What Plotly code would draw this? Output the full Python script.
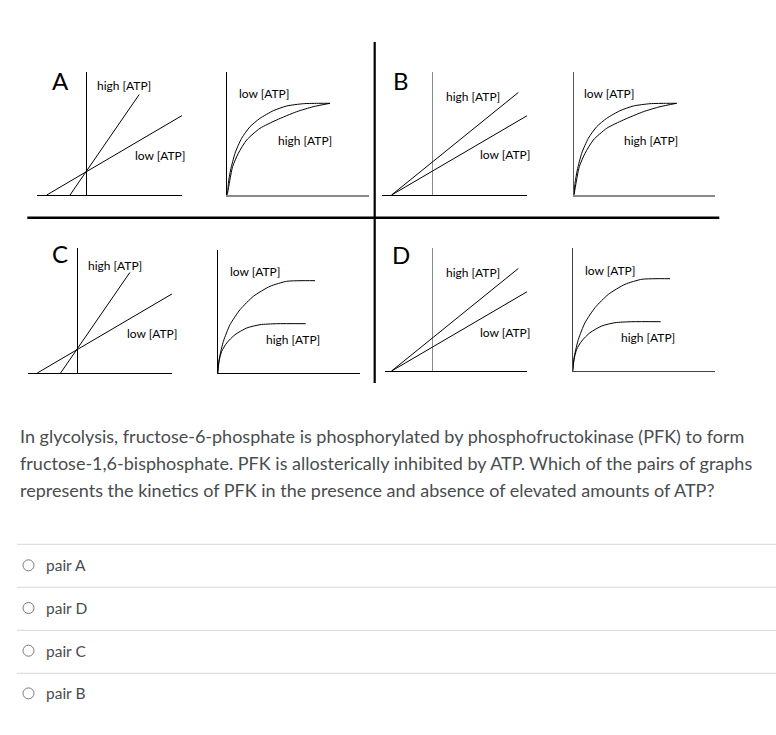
import plotly.graph_objects as go

W, H = 776, 735

# ---------------- data ----------------
# Lineweaver-Burk plots (1/[S] vs 1/v), pairs A and C
lb_ac_high_x = [-16.7, 52.5]
lb_ac_high_y = [0.0, 100.5]
lb_ac_low_x = [-40.0, 98.0]
lb_ac_low_y = [0.0, 81.0]
# Lineweaver-Burk plots, pairs B and D
lb_bd_high_x = [-40.7, 86.0]
lb_bd_high_y = [0.0, 102.5]
lb_bd_low_x = [-40.7, 97.7]
lb_bd_low_y = [0.0, 81.0]

# Michaelis-Menten plots ([S] vs v), pairs A and B (same Vmax)
mm_ab_low_s = [0.0, 1.0, 3.3, 7.7, 14.3, 22.7, 32.7, 46.0, 59.3, 76.0, 92.7, 102.7]
mm_ab_low_v = [1.0, 11.7, 25.0, 41.7, 56.7, 68.3, 76.7, 84.3, 89.0, 91.3, 91.7, 91.7]
mm_ab_high_s = [0.0, 2.0, 5.3, 11.0, 19.3, 32.7, 49.3, 69.3, 86.0, 102.7]
mm_ab_high_v = [0.0, 11.7, 28.3, 41.7, 55.0, 66.7, 75.0, 83.3, 88.3, 91.7]
# Michaelis-Menten plots, pairs C and D (lower Vmax with high ATP)
mm_cd_low_s = [0.0, 1.7, 5.7, 12.3, 22.3, 35.7, 52.3, 69.0, 82.3, 97.3]
mm_cd_low_v = [0.0, 15.0, 31.7, 48.3, 63.3, 76.7, 86.7, 91.7, 92.3, 92.3]
mm_cd_high_s = [0.0, 1.3, 4.0, 9.0, 17.3, 29.0, 42.3, 59.0, 88.0]
mm_cd_high_v = [0.0, 11.7, 21.7, 30.0, 38.3, 45.0, 48.3, 49.3, 49.3]

pair_letters = ["A", "B", "C", "D"]
curve_labels = ["high [ATP]", "low [ATP]"]
question_lines = [
    "In glycolysis, fructose-6-phosphate is phosphorylated by phosphofructokinase (PFK) to form",
    "fructose-1,6-bisphosphate. PFK is allosterically inhibited by ATP. Which of the pairs of graphs",
    "represents the kinetics of PFK in the presence and absence of elevated amounts of ATP?",
]
options = ["pair A", "pair D", "pair C", "pair B"]

# ---------------- layout of the panels (pixels) ----------------
GREY = "#8a8a8a"
panels = [
    dict(kind="lb", ox=86.7, oy=195, xl=-49.7, xr=95.3, top=123,
         vcol="black", hcol="black", vw=1, hw=1,
         high=(lb_ac_high_x, lb_ac_high_y), low=(lb_ac_low_x, lb_ac_low_y),
         lab_high=(37.3, 109), lab_low=(73.3, 39)),
    dict(kind="mm", ox=227.3, oy=195, xl=0, xr=142, top=123.3,
         vcol="black", hcol=GREY, vw=1, hw=2,
         high=(mm_ab_high_s, mm_ab_high_v), low=(mm_ab_low_s, mm_ab_low_v),
         lab_high=(77.7, 55), lab_low=(36.2, 102)),
    dict(kind="lb", ox=432.3, oy=195, xl=-50.3, xr=94.7, top=123,
         vcol=GREY, hcol="black", vw=1.5, hw=1,
         high=(lb_bd_high_x, lb_bd_high_y), low=(lb_bd_low_x, lb_bd_low_y),
         lab_high=(40.2, 98), lab_low=(72.7, 40)),
    dict(kind="mm", ox=574, oy=195, xl=0, xr=141, top=123.3,
         vcol="#555555", hcol=GREY, vw=1, hw=2,
         high=(mm_ab_high_s, mm_ab_high_v), low=(mm_ab_low_s, mm_ab_low_v),
         lab_high=(77, 55), lab_low=(34.5, 102)),
    dict(kind="lb", ox=77.3, oy=373, xl=-49.3, xr=94.7, top=125,
         vcol="black", hcol="black", vw=1, hw=1,
         high=(lb_ac_high_x, lb_ac_high_y), low=(lb_ac_low_x, lb_ac_low_y),
         lab_high=(37.7, 108), lab_low=(74.2, 40)),
    dict(kind="mm", ox=217.7, oy=373, xl=0, xr=142.3, top=123.3,
         vcol="black", hcol="black", vw=1, hw=1,
         high=(mm_cd_high_s, mm_cd_high_v), low=(mm_cd_low_s, mm_cd_low_v),
         lab_high=(74.8, 33), lab_low=(37.3, 101)),
    dict(kind="lb", ox=432.3, oy=371, xl=-47.3, xr=94.7, top=123,
         vcol=GREY, hcol="black", vw=1.5, hw=1,
         high=(lb_bd_high_x, lb_bd_high_y), low=(lb_bd_low_x, lb_bd_low_y),
         lab_high=(40.2, 99), lab_low=(72.7, 39)),
    dict(kind="mm", ox=572.7, oy=371, xl=0, xr=142.3, top=123,
         vcol="#444444", hcol="#444444", vw=1, hw=1,
         high=(mm_cd_high_s, mm_cd_high_v), low=(mm_cd_low_s, mm_cd_low_v),
         lab_high=(74.8, 34), lab_low=(37.3, 101)),
]

fig = go.Figure()
layout = dict(
    width=W, height=H, margin=dict(l=0, r=0, t=0, b=0),
    paper_bgcolor="white", plot_bgcolor="rgba(0,0,0,0)",
    showlegend=False, annotations=[], shapes=[],
)

LABEL_FONT = dict(family="Lato, 'Open Sans', sans-serif", size=12, color="black")

for i, p in enumerate(panels):
    n = i + 1
    xa = "xaxis" if n == 1 else f"xaxis{n}"
    ya = "yaxis" if n == 1 else f"yaxis{n}"
    xr_ = "x" if n == 1 else f"x{n}"
    yr_ = "y" if n == 1 else f"y{n}"
    xdom = [(p["ox"] + p["xl"]) / W, (p["ox"] + p["xr"]) / W]
    ydom = [1 - p["oy"] / H, 1 - (p["oy"] - p["top"]) / H]
    common = dict(showgrid=False, showticklabels=False, ticks="", fixedrange=True)
    if p["kind"] == "lb":
        layout[xa] = dict(domain=xdom, range=[p["xl"], p["xr"]], anchor=yr_,
                          showline=True, linecolor=p["hcol"], linewidth=p["hw"],
                          zeroline=True, zerolinecolor=p["vcol"], zerolinewidth=p["vw"],
                          **common)
        layout[ya] = dict(domain=ydom, range=[0, p["top"]], anchor=xr_,
                          showline=False, zeroline=False, **common)
    else:
        layout[xa] = dict(domain=xdom, range=[0, p["xr"]], anchor=yr_,
                          showline=True, linecolor=p["hcol"], linewidth=p["hw"],
                          zeroline=False, **common)
        layout[ya] = dict(domain=ydom, range=[0, p["top"]], anchor=xr_,
                          showline=True, linecolor=p["vcol"], linewidth=p["vw"],
                          zeroline=False, **common)
    for key in ("high", "low"):
        xs, ys = p[key]
        fig.add_trace(go.Scatter(x=xs, y=ys, mode="lines",
                                 line=dict(color="black", width=1, shape="spline" if p["kind"] == "mm" else "linear", smoothing=0.6),
                                 xaxis=xr_, yaxis=yr_, hoverinfo="skip"))
    for key, txt in (("lab_high", curve_labels[0]), ("lab_low", curve_labels[1])):
        lx, ly = p[key]
        layout["annotations"].append(dict(x=lx, y=ly, xref=xr_, yref=yr_, text=txt,
                                          showarrow=False, font=LABEL_FONT,
                                          xanchor="center", yanchor="middle"))

# pair letters
letter_pos = [(60, 80), (401, 80), (60, 253), (401, 254)]
for L, (px, py) in zip(pair_letters, letter_pos):
    layout["annotations"].append(dict(x=px / W, y=1 - py / H, xref="paper", yref="paper",
                                      text=L, showarrow=False,
                                      font=dict(family="Lato, sans-serif", size=24, color="black"),
                                      xanchor="center", yanchor="middle"))

# dividers of the 2x2 grid
layout["shapes"].append(dict(type="line", xref="paper", yref="paper",
                             x0=374.7 / W, x1=374.7 / W, y0=1 - 42 / H, y1=1 - 383 / H,
                             line=dict(color="black", width=2.2)))
layout["shapes"].append(dict(type="line", xref="paper", yref="paper",
                             x0=27.3 / W, x1=719.3 / W, y0=1 - 217.7 / H, y1=1 - 217.7 / H,
                             line=dict(color="black", width=2.6)))

# question text
TEXT_COL = "#494c4e"
for k, line in enumerate(question_lines):
    py = 435.5 + 27 * k
    layout["annotations"].append(dict(x=18 / W, y=1 - py / H, xref="paper", yref="paper",
                                      text=line, showarrow=False, xanchor="left", yanchor="middle",
                                      font=dict(family="Lato, sans-serif", size=18, color=TEXT_COL)))

# options with separators and radio circles
for k, opt in enumerate(options):
    sep_y = 544.3 + 43 * k
    layout["shapes"].append(dict(type="line", xref="paper", yref="paper",
                                 x0=17 / W, x1=1, y0=1 - sep_y / H, y1=1 - sep_y / H,
                                 line=dict(color="#d8d8d8", width=1)))
    cy = 565.3 + 42.7 * k
    r = 5.5
    layout["shapes"].append(dict(type="circle", xref="paper", yref="paper",
                                 x0=(28.5 - r) / W, x1=(28.5 + r) / W,
                                 y0=1 - (cy + r) / H, y1=1 - (cy - r) / H,
                                 line=dict(color="#7a7a7a", width=1), fillcolor="white"))
    layout["annotations"].append(dict(x=44 / W, y=1 - cy / H, xref="paper", yref="paper",
                                      text=opt, showarrow=False, xanchor="left", yanchor="middle",
                                      font=dict(family="Lato, sans-serif", size=15.5, color=TEXT_COL)))

fig.update_layout(**layout)
fig.write_html("out.html", config={"displayModeBar": False, "staticPlot": True},
               post_script="document.body.style.margin='0';")
